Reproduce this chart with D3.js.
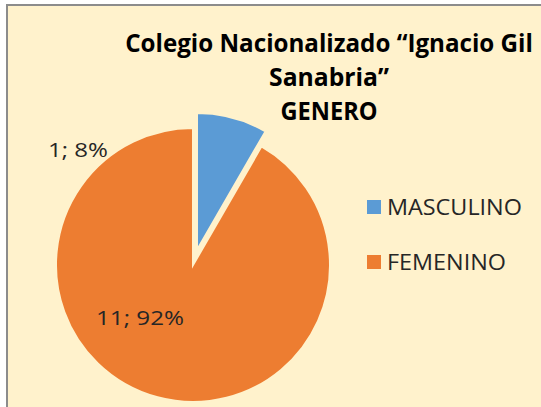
<!doctype html>
<html>
<head>
<meta charset="utf-8">
<script src="https://d3js.org/d3.v7.min.js"></script>
<style>
  body { margin: 0; background: #fff; }
  text { font-family: "Open Sans", "Noto Sans", sans-serif; }
</style>
</head>
<body>
<svg id="chart" width="541" height="407"></svg>
<script>
// data
var categories = ["MASCULINO", "FEMENINO"];
var values = [1, 11];
var percentLabels = ["8%", "92%"];
var titleLines = ["Colegio Nacionalizado \u201cIgnacio Gil", "Sanabria\u201d", "GENERO"];

var colors = d3.scaleOrdinal().domain(categories).range(["#5B9BD5", "#ED7D31"]);

var svg = d3.select("#chart");

// fit a text horizontally to a given width (fonts differ from the original Calibri)
function squeeze(sel, x, y, w) {
  sel.each(function(d, i) {
    var t = d3.select(this);
    var nat = this.getComputedTextLength();
    var k = w(d, i) / nat;
    t.attr("transform", "translate(" + x(d, i) + "," + y(d, i) + ") scale(" + k + ",1)");
  });
}

// chart area with border (cut off at right / bottom like the screenshot)
svg.append("rect")
   .attr("x", 7).attr("y", 5)
   .attr("width", 560).attr("height", 430)
   .attr("fill", "#FFF2CC")
   .attr("stroke", "#8c8c8c")
   .attr("stroke-width", 2);

// title
var titleW = [408, 120, 97];
svg.append("g").selectAll("text")
   .data(titleLines)
   .enter().append("text")
   .attr("text-anchor", "middle")
   .attr("font-size", 25)
   .attr("font-weight", "bold")
   .attr("fill", "#000")
   .text(function(d) { return d; })
   .call(squeeze, function() { return 329; },
         function(d, i) { return 52 + i * 34; },
         function(d, i) { return titleW[i]; });

// pie
var cx = 193, cy = 265, radius = 137, explode = 15.5;
var pie = d3.pie().sort(null).value(function(d) { return d; });
var arc = d3.arc().innerRadius(0).outerRadius(radius);
var slices = pie(values);

var g = svg.append("g").attr("transform", "translate(" + cx + "," + cy + ")");

g.selectAll("path")
 .data(slices)
 .enter().append("path")
 .attr("transform", function(d, i) {
    if (i != 0) return null;
    var a = (d.startAngle + d.endAngle) / 2;
    return "translate(" + (Math.sin(a) * explode) + "," + (-Math.cos(a) * explode) + ")";
 })
 .attr("d", arc)
 .attr("fill", function(d, i) { return colors(categories[i]); })
 .attr("stroke", "#FFF2CC")
 .attr("stroke-width", 2);

// data labels (value; percent)
var labelPos = [[-115, -108], [-53, 60]];
var labelW = [60, 88];
g.selectAll("text.lbl")
 .data(slices)
 .enter().append("text")
 .attr("class", "lbl")
 .attr("text-anchor", "middle")
 .attr("font-size", 20)
 .attr("fill", "#262626")
 .text(function(d, i) { return values[i] + "; " + percentLabels[i]; })
 .call(squeeze, function(d, i) { return labelPos[i][0]; },
       function(d, i) { return labelPos[i][1]; },
       function(d, i) { return labelW[i]; });

// legend
var legendW = [135, 119];
var legend = svg.append("g").attr("transform", "translate(367,200)");
var items = legend.selectAll("g")
   .data(categories)
   .enter().append("g")
   .attr("transform", function(d, i) { return "translate(0," + (i * 55) + ")"; });

items.append("rect")
   .attr("width", 14).attr("height", 14)
   .attr("fill", function(d) { return colors(d); });

items.append("text")
   .attr("font-size", 22)
   .attr("fill", "#262626")
   .text(function(d) { return d; })
   .call(squeeze, function() { return 20; }, function() { return 14.5; },
         function(d, i) { return legendW[i]; });
</script>
</body>
</html>
